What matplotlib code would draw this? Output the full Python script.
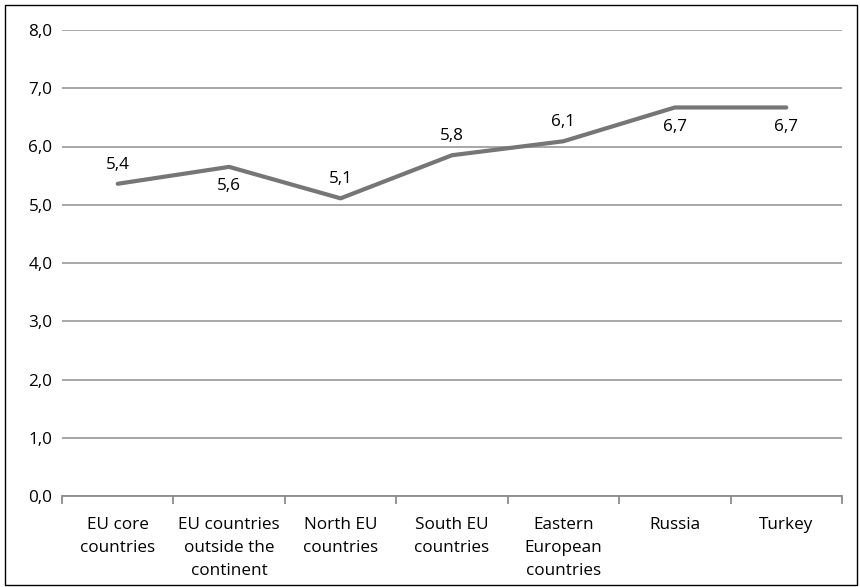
import matplotlib.pyplot as plt
from matplotlib.patches import Rectangle

# Average scores by region
categories = ["EU core\ncountries", "EU countries\noutside the\ncontinent", "North EU\ncountries",
              "South EU\ncountries", "Eastern\nEuropean\ncountries", "Russia", "Turkey"]
values = [5.36, 5.65, 5.11, 5.85, 6.09, 6.67, 6.67]
labels = ["5,4", "5,6", "5,1", "5,8", "6,1", "6,7", "6,7"]
label_above = [True, False, True, True, True, False, False]
yticks = [0, 1, 2, 3, 4, 5, 6, 7, 8]

plt.rcParams['font.family'] = ['Open Sans', 'DejaVu Sans']
fs = 12.3

fig = plt.figure(figsize=(8.6, 5.87), dpi=100)
ax = fig.add_axes([62 / 860, 1 - 496 / 587, (842 - 62) / 860, (496 - 30) / 587])

x = list(range(len(values)))
ax.plot(x, values, color='#767676', linewidth=3.0, solid_capstyle='round', zorder=3)

for xi, v, lab, up in zip(x, values, labels, label_above):
    if up:
        ax.annotate(lab, (xi, v), xytext=(0, 8), textcoords='offset points',
                    ha='center', va='bottom', fontsize=fs, color='black')
    else:
        ax.annotate(lab, (xi, v), xytext=(0, -8), textcoords='offset points',
                    ha='center', va='top', fontsize=fs, color='black')

ax.set_xlim(-0.5, len(values) - 0.5)
ax.set_ylim(0, 8)
ax.set_yticks(yticks)
ax.set_yticklabels([f"{t},0" for t in yticks], fontsize=fs)
ax.set_xticks(x)
ax.set_xticklabels(categories, fontsize=fs, linespacing=1.6)
ax.set_xticks([i - 0.5 for i in range(len(values) + 1)], minor=True)
ax.tick_params(axis='x', which='major', length=0, pad=15)
ax.tick_params(axis='x', which='minor', length=6, color='#8c8c8c', width=1.3)
ax.tick_params(axis='y', length=0, pad=7)

ax.grid(axis='y', color='#a0a0a0', linewidth=1.3)
ax.set_axisbelow(True)
for side in ['top', 'right', 'left']:
    ax.spines[side].set_visible(False)
ax.spines['bottom'].set_color('#8c8c8c')
ax.spines['bottom'].set_linewidth(1.3)

# outer chart border
fig.patches.append(Rectangle((5 / 860, 2 / 587), 852 / 860, 580 / 587, transform=fig.transFigure,
                             fill=False, edgecolor='black', linewidth=1.0))

plt.savefig("out.png", dpi=100)
